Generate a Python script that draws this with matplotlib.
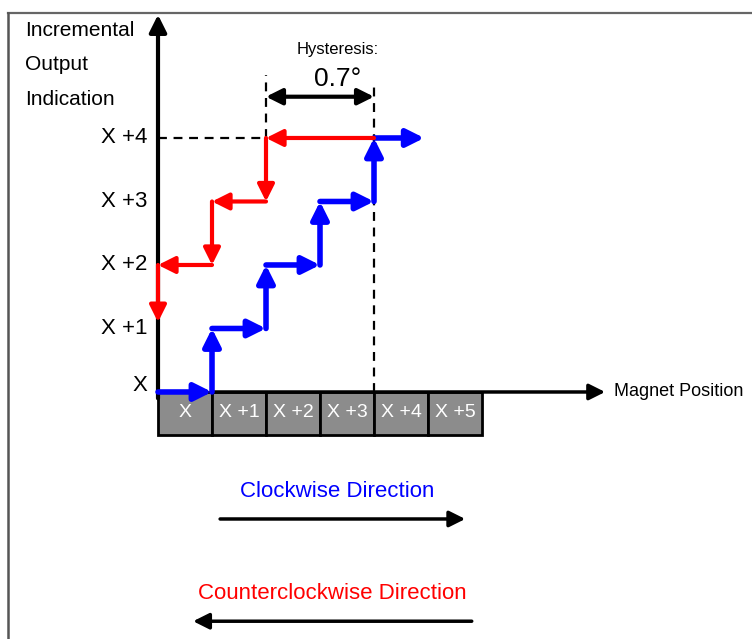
import matplotlib.pyplot as plt

plt.rcParams['font.family'] = ['Liberation Sans', 'DejaVu Sans']

# data (x in magnet-position cells, y in output levels)
level_vals = [0, 1, 2, 3, 4]
level_labels = ['X', 'X +1', 'X +2', 'X +3', 'X +4']
cell_labels = ['X', 'X +1', 'X +2', 'X +3', 'X +4', 'X +5']
ylabel_lines = ['Incremental', 'Output', 'Indication']

cw_x = [0, 1, 1, 2, 2, 3, 3, 4, 4, 4.93]     # clockwise path (blue)
cw_y = [0, 0, 1, 1, 2, 2, 3, 3, 4, 4]
ccw_x = [4, 2, 2, 1, 1, 0, 0]                # counterclockwise path (red)
ccw_y = [4, 4, 3, 3, 2, 2, 1.1]

hyst_x = [2, 4]
hyst_text = '0.7\u00b0'

blue = '#0000ff'
red = '#ff0000'

fig = plt.figure(figsize=(7.52, 6.39), dpi=100)
ax = fig.add_axes([0, 0, 1, 1])
ax.set_xlim(-2.926, 11.0)
ax.set_ylim(-3.89, 6.173)
ax.axis('off')

# frame (top and left only)
ax.plot([0.011, 1.0], [0.98, 0.98], color='#666666', lw=1.6, transform=ax.transAxes, clip_on=False)
ax.plot([0.011, 0.011], [0.0, 0.98], color='#555555', lw=1.8, transform=ax.transAxes, clip_on=False)


def arrow(x0, y0, x1, y1, color, lw=3.5, ms=22, style='-|>'):
    ax.annotate('', xy=(x1, y1), xytext=(x0, y0),
                arrowprops=dict(arrowstyle=style, color=color, lw=lw,
                                mutation_scale=ms, shrinkA=0, shrinkB=0))


# axes
arrow(0, -0.1, 0, 5.94, 'black', lw=3, ms=26)
arrow(1, 0, 8.28, 0, 'black', lw=2.5, ms=24)
ax.text(8.44, 0, 'Magnet Position', fontsize=13, va='center', ha='left')

# y labels
for v, lab in zip(level_vals, level_labels):
    ax.text(-0.19, v + (0.1 if v == 0 else 0), lab, fontsize=16, ha='right', va='center')
for k, line in enumerate(ylabel_lines):
    ax.text(-2.46, 5.70 - 0.55 * k, line, fontsize=15, ha='left', va='center')

# cells
for i, lab in enumerate(cell_labels):
    ax.bar(i + 0.5, -0.677, bottom=0, width=1, color='#8c8c8c', edgecolor='black', lw=2)
    ax.text(i + 0.5, -0.33, lab, color='white', fontsize=14, ha='center', va='center')

# dashed guides
ax.plot([0, 2], [4, 4], color='black', ls=(0, (4, 3)), lw=1.6)
ax.plot([2, 2], [4, 4.99], color='black', ls=(0, (4, 3)), lw=1.6)
ax.plot([4, 4], [0, 4.83], color='black', ls=(0, (4, 3)), lw=1.6)

# hysteresis
arrow(hyst_x[0], 4.65, hyst_x[1], 4.65, 'black', lw=3, ms=24, style='<|-|>')
ax.text(sum(hyst_x) / 2 + 0.33, 5.39, 'Hysteresis:', fontsize=12, ha='center', va='center')
ax.text(sum(hyst_x) / 2 + 0.33, 4.93, hyst_text, fontsize=19, ha='center', va='center')

# step paths
for i in range(len(cw_x) - 1):
    arrow(cw_x[i], cw_y[i], cw_x[i + 1], cw_y[i + 1], blue, lw=4, ms=26)
for i in range(len(ccw_x) - 1):
    arrow(ccw_x[i], ccw_y[i], ccw_x[i + 1], ccw_y[i + 1], red, lw=3, ms=25)

# direction legend
ax.text(3.31, -1.575, 'Clockwise Direction', color=blue, fontsize=16, ha='center', va='center')
arrow(1.15, -2.0, 5.69, -2.0, 'black', lw=2.5, ms=24)
ax.text(3.22, -3.18, 'Counterclockwise Direction', color=red, fontsize=16, ha='center', va='center')
arrow(5.81, -3.61, 0.65, -3.61, 'black', lw=2.5, ms=24)

plt.savefig('out.png', dpi=100)
